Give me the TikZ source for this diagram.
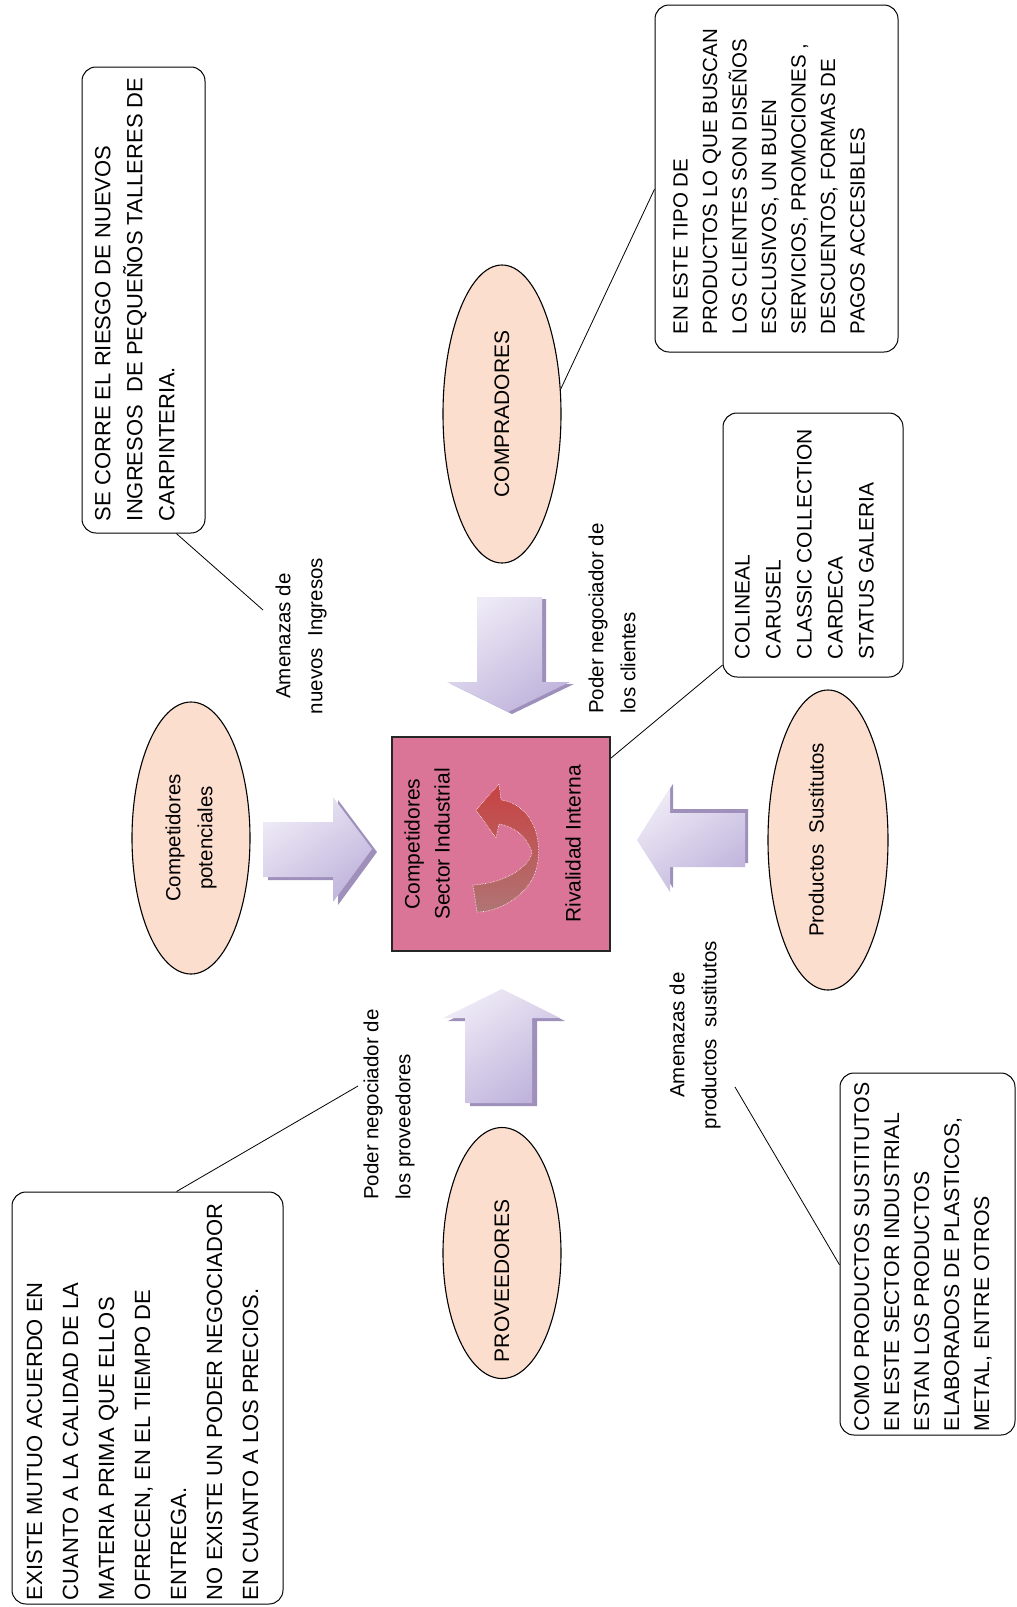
\documentclass[tikz,border=0pt]{standalone}
\usepackage{fontspec}
\setmainfont{Liberation Sans}
\usetikzlibrary{shapes.geometric,calc}

\definecolor{rosa}{RGB}{219,117,152}
\definecolor{durazno}{RGB}{252,222,206}
\definecolor{lila}{RGB}{192,180,220}
\definecolor{lilaclaro}{RGB}{238,234,246}
\definecolor{lilasombra}{RGB}{158,144,186}
\definecolor{rojoflecha}{RGB}{200,66,66}
\definecolor{rojopalido}{RGB}{176,116,116}

% texto de las cajas: ancho, alto, lineas
\newcommand{\textocaja}[3]{\parbox[c][#2][t]{#1}{\begin{tabular}[t]{@{}l@{}}#3\end{tabular}}}

\tikzset{
	nota/.style={draw, rounded corners=14pt, fill=white, rotate=90, line width=1pt},
	elipse/.style={ellipse, draw, fill=durazno, rotate=90, inner sep=0pt, line width=1.1pt, font=\fontsize{20.5}{32}\selectfont},
	etiqueta/.style={rotate=90, inner sep=2pt, font=\fontsize{20.5}{32}\selectfont},
	sombra/.style={fill=lilasombra},
	flecha/.style={top color=lilaclaro, bottom color=lila, shading angle=35},
	enlace/.style={line width=0.8pt}
}

\begin{document}
\begin{tikzpicture}[x=1pt, y=-1pt]
	\fill[white] (0,0) rectangle (1017,1607);
	\useasboundingbox (0,0) rectangle (1017,1607);
	%flechas de bloque
	\fill[sombra, shift={(4,2)}] (477,597) -- (542,597) -- (542,682) -- (570,682) -- (508,712) -- (447,682) -- (477,682) -- cycle;
	\shade[flecha] (477,597) -- (542,597) -- (542,682) -- (570,682) -- (508,712) -- (447,682) -- (477,682) -- cycle;
	\fill[sombra, shift={(5,3)}] (465,1103) -- (532,1103) -- (532,1018) -- (560,1018) -- (502,989) -- (443,1018) -- (465,1018) -- cycle;
	\shade[flecha] (465,1103) -- (532,1103) -- (532,1018) -- (560,1018) -- (502,989) -- (443,1018) -- (465,1018) -- cycle;
	\fill[sombra, shift={(5,3)}] (263,822) -- (333,822) -- (333,797) -- (372,849) -- (333,902) -- (333,877) -- (263,877) -- cycle;
	\shade[flecha] (263,822) -- (333,822) -- (333,797) -- (372,849) -- (333,902) -- (333,877) -- (263,877) -- cycle;
	\fill[sombra, shift={(3,-4)}] (745,813) -- (670,813) -- (670,788) -- (637,840) -- (670,892) -- (670,867) -- (745,867) -- cycle;
	\shade[flecha] (745,813) -- (670,813) -- (670,788) -- (637,840) -- (670,892) -- (670,867) -- (745,867) -- cycle;
	%centro
	\node[draw=black!85, line width=1.5pt, fill=rosa, rotate=90, minimum width=214pt, minimum height=218pt, align=center, font=\fontsize{21}{30}\selectfont] (rivalidad) at (501,844) {Competidores\\Sector Industrial\\[101pt]Rivalidad Interna\\[-13pt]\mbox{}};
	\shadedraw[top color=rojoflecha, bottom color=rojopalido, draw=white, densely dotted, line width=0.6pt]
	(476,810) -- (499,784) -- (501,800) .. controls (535,805) and (545,845) .. (535,873) .. controls (527,895) and (500,912) .. (477,912) -- (473,885) .. controls (505,883) and (528,868) .. (532,853) .. controls (527,835) and (512,826) .. (499,824) -- (496,838) -- cycle;
	%fuerzas
	\node[elipse, minimum width=272pt, minimum height=118pt, align=center] (potenciales) at (191,838) {Competidores\\potenciales};
	\node[elipse, minimum width=298pt, minimum height=118pt, font=\fontsize{21}{30}\selectfont] (compradores) at (502,414) {COMPRADORES};
	\node[elipse, minimum width=300pt, minimum height=120pt] (sustitutos) at (828,840) {\raisebox{10pt}[15pt][4pt]{Productos\ \ Sustitutos}};
	\node[elipse, minimum width=251pt, minimum height=118pt, font=\fontsize{21}{30}\selectfont] (proveedores) at (502,1253) {\hspace*{-56pt}PROVEEDORES};
	%etiquetas
	\node[etiqueta, align=center] (amenazasN) at (301,636) {Amenazas de\\nuevos\ \ Ingresos};
	\node[etiqueta, align=left, anchor=west] (poderC) at (612,716) {Poder negociador de\\los clientes};
	\node[etiqueta, align=left, anchor=west] (poderP) at (389,1202) {Poder negociador de\\los proveedores};
	\node[etiqueta, align=center] (amenazasS) at (695,1035) {Amenazas de\\productos\ \ sustitutos};
	%notas
	\node[nota, inner xsep=12pt, inner ysep=6pt, font=\fontsize{22}{32}\selectfont] (secorre) at (143.5,300)
	{\textocaja{442pt}{111pt}{SE CORRE EL RIESGO DE NUEVOS\\INGRESOS\ \ DE PEQUEÑOS TALLERES DE\\CARPINTERIA.}};
	\node[nota, inner xsep=18pt, inner ysep=12pt, font=\fontsize{20.5}{29.5}\selectfont] (compbox) at (776.5,178.5)
	{\textocaja{311pt}{219pt}{EN ESTE TIPO DE\\PRODUCTOS LO QUE BUSCAN\\LOS CLIENTES SON DISEÑOS\\ESCLUSIVOS, UN BUEN\\SERVICIOS, PROMOCIONES ,\\DESCUENTOS, FORMAS DE\\PAGOS ACCESIBLES}};
	\node[nota, inner xsep=18pt, inner ysep=5pt, font=\fontsize{21}{31}\selectfont] (colineal) at (813,545)
	{\textocaja{228pt}{170pt}{COLINEAL\\CARUSEL\\CLASSIC COLLECTION\\CARDECA\\STATUS GALERIA}};
	\node[nota, inner xsep=4pt, inner ysep=8pt, font=\fontsize{21.3}{30}\selectfont] (comobox) at (927.5,1254)
	{\textocaja{354pt}{159pt}{COMO PRODUCTOS SUSTITUTOS\\EN ESTE SECTOR INDUSTRIAL\\ESTAN LOS PRODUCTOS\\ELABORADOS DE PLASTICOS,\\METAL, ENTRE OTROS}};
	\node[nota, inner xsep=4pt, inner ysep=5pt, font=\fontsize{22}{36}\selectfont] (existe) at (147.5,1398)
	{\textocaja{404pt}{261pt}{EXISTE MUTUO ACUERDO EN\\CUANTO A LA CALIDAD DE LA\\MATERIA PRIMA QUE ELLOS\\OFRECEN, EN EL TIEMPO DE\\ENTREGA.\\NO EXISTE UN PODER NEGOCIADOR\\EN CUANTO A LOS PRECIOS.}};
	%lineas
	\coordinate (finN) at (263,610);
	\coordinate (finP) at (358,1086);
	\coordinate (finS) at (735,1087);
	\draw[enlace] (secorre.-172) -- (finN);
	\draw[enlace] (compradores.-67) -- (compbox.95);
	\draw[enlace] (rivalidad.-52) -- (colineal.143);
	\draw[enlace] (comobox.97) -- (finS);
	\draw[enlace] (existe.-8) -- (finP);
\end{tikzpicture}
\end{document}
